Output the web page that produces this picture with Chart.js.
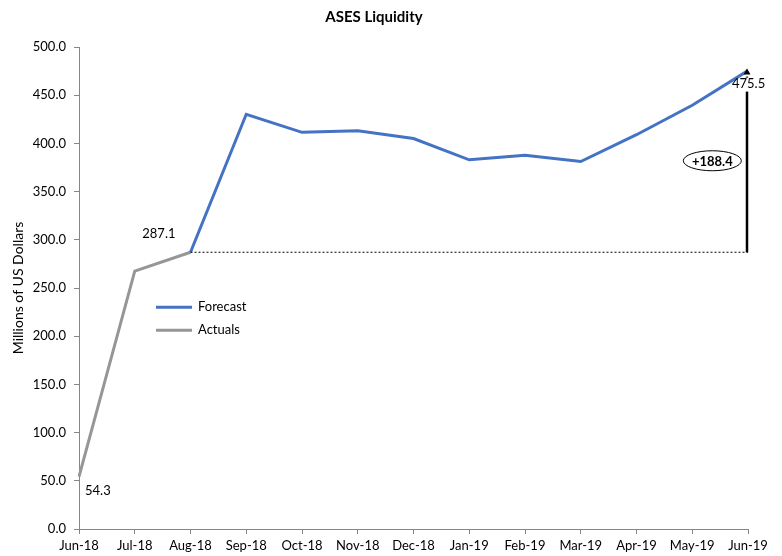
<!DOCTYPE html>
<html>
<head>
<meta charset="utf-8">
<script src="https://cdn.jsdelivr.net/npm/chart.js@4"></script>
<style>
  html, body { margin: 0; padding: 0; background: #fff; }
  #wrap { width: 782px; height: 556px; }
</style>
</head>
<body>
<div id="wrap"><canvas id="liquidity-chart" width="782" height="556"></canvas></div>
<script>
// chart values
const months = ["Jun-18", "Jul-18", "Aug-18", "Sep-18", "Oct-18", "Nov-18", "Dec-18",
  "Jan-19", "Feb-19", "Mar-19", "Apr-19", "May-19", "Jun-19"];
const forecastValues = [null, null, 287.1, 430.2, 411.5, 413.2, 405.0,
  383.0, 387.8, 381.2, 409.0, 439.5, 475.5];
const actualValues = [54.3, 267.5, 287.1, null, null, null, null,
  null, null, null, null, null, null];
const yTicks = [0, 50, 100, 150, 200, 250, 300, 350, 400, 450, 500];

const baseValue = 287.1;
const endValue = 475.5;

const FONT = "Lato, 'Open Sans', sans-serif";
const axisGrey = "#868686";

// draws the legend, data labels, dotted base line and growth arrow
const annotations = {
  id: "annotations",
  afterDatasetsDraw(chart) {
    const { ctx } = chart;
    const x = chart.scales.x;
    const y = chart.scales.y;
    const last = months.length - 1;

    ctx.save();

    // dotted line from the last actual to the end of the forecast
    ctx.strokeStyle = "#000";
    ctx.lineWidth = 1;
    ctx.setLineDash([2, 2]);
    ctx.beginPath();
    ctx.moveTo(x.getPixelForValue(2), y.getPixelForValue(baseValue));
    ctx.lineTo(x.getPixelForValue(last), y.getPixelForValue(baseValue));
    ctx.stroke();
    ctx.setLineDash([]);

    // vertical arrow showing the growth
    const ax = x.getPixelForValue(last) - 1;
    const topY = y.getPixelForValue(endValue);
    ctx.lineWidth = 2.5;
    ctx.beginPath();
    ctx.moveTo(ax, y.getPixelForValue(baseValue));
    ctx.lineTo(ax, topY + 6);
    ctx.stroke();
    ctx.fillStyle = "#000";
    ctx.beginPath();
    ctx.moveTo(ax, topY - 2);
    ctx.lineTo(ax - 3.5, topY + 4);
    ctx.lineTo(ax + 3.5, topY + 4);
    ctx.closePath();
    ctx.fill();

    // end label sits on a white box over the arrow shaft
    ctx.font = "13px " + FONT;
    ctx.textBaseline = "middle";
    ctx.textAlign = "left";
    const endText = endValue.toFixed(1);
    const endX = x.getPixelForValue(last) - 16;
    const endY = topY + 13;
    ctx.fillStyle = "#fff";
    ctx.fillRect(endX + 8, endY - 6, ctx.measureText(endText).width - 6, 14);
    ctx.fillStyle = "#000";
    ctx.fillText(endText, endX, endY);

    // ellipse with the difference
    const ex = x.getPixelForValue(last - 0.64);
    const ey = y.getPixelForValue(382);
    ctx.lineWidth = 1;
    ctx.strokeStyle = "#000";
    ctx.beginPath();
    ctx.ellipse(ex, ey, 29, 10, 0, 0, Math.PI * 2);
    ctx.fillStyle = "#fff";
    ctx.fill();
    ctx.stroke();
    ctx.fillStyle = "#000";
    ctx.font = "bold 13px " + FONT;
    ctx.textAlign = "center";
    ctx.fillText("+" + (endValue - baseValue).toFixed(1), ex, ey + 1);

    // other data labels
    ctx.font = "13px " + FONT;
    ctx.textAlign = "left";
    ctx.fillText(actualValues[0].toFixed(1), x.getPixelForValue(0) + 6, y.getPixelForValue(actualValues[0]) + 14);
    ctx.textAlign = "right";
    ctx.fillText(baseValue.toFixed(1), x.getPixelForValue(2) - 15, y.getPixelForValue(baseValue) - 18);

    // legend
    const lx = chart.chartArea.left + 77;
    const ly = y.getPixelForValue(230);
    chart.data.datasets.forEach((ds, i) => {
      const rowY = ly + i * 23;
      ctx.strokeStyle = ds.borderColor;
      ctx.lineWidth = 3;
      ctx.beginPath();
      ctx.moveTo(lx, rowY);
      ctx.lineTo(lx + 36, rowY);
      ctx.stroke();
      ctx.fillStyle = "#000";
      ctx.textAlign = "left";
      ctx.fillText(ds.label, lx + 42, rowY);
    });

    ctx.restore();
  }
};

new Chart(document.getElementById("liquidity-chart"), {
  type: "line",
  data: {
    labels: months,
    datasets: [
      {
        label: "Forecast",
        data: forecastValues,
        borderColor: "#4472C4",
        borderWidth: 3,
        pointRadius: 0,
        tension: 0
      },
      {
        label: "Actuals",
        data: actualValues,
        borderColor: "#969696",
        borderWidth: 3,
        pointRadius: 0,
        tension: 0
      }
    ]
  },
  options: {
    responsive: false,
    animation: false,
    layout: { padding: { top: 0, right: 34, bottom: 0, left: 0 } },
    plugins: {
      legend: { display: false },
      tooltip: { enabled: false },
      title: {
        display: true,
        text: "ASES Liquidity",
        color: "#000",
        font: { family: FONT, size: 15, weight: "bold" },
        padding: { top: 8, bottom: 21 }
      }
    },
    scales: {
      x: {
        offset: false,
        grid: { drawOnChartArea: false, drawTicks: true, tickLength: 5, color: axisGrey },
        border: { color: axisGrey, width: 1 },
        ticks: {
          color: "#000",
          font: { family: FONT, size: 13 },
          maxRotation: 0,
          autoSkip: false,
          padding: 4
        },
        afterFit(scale) { scale.height = 27; }
      },
      y: {
        min: 0,
        max: 500,
        afterBuildTicks(scale) { scale.ticks = yTicks.map(v => ({ value: v })); },
        grid: { drawOnChartArea: false, drawTicks: true, tickLength: 5, color: axisGrey },
        border: { color: axisGrey, width: 1 },
        ticks: {
          color: "#000",
          font: { family: FONT, size: 13 },
          padding: 8,
          callback: v => Number(v).toFixed(1)
        },
        title: {
          display: true,
          text: "Millions of US Dollars",
          color: "#000",
          font: { family: FONT, size: 14 },
          padding: { top: 10, bottom: 4 }
        },
        afterFit(scale) { scale.width = 79; }
      }
    }
  },
  plugins: [annotations]
});
</script>
</body>
</html>
